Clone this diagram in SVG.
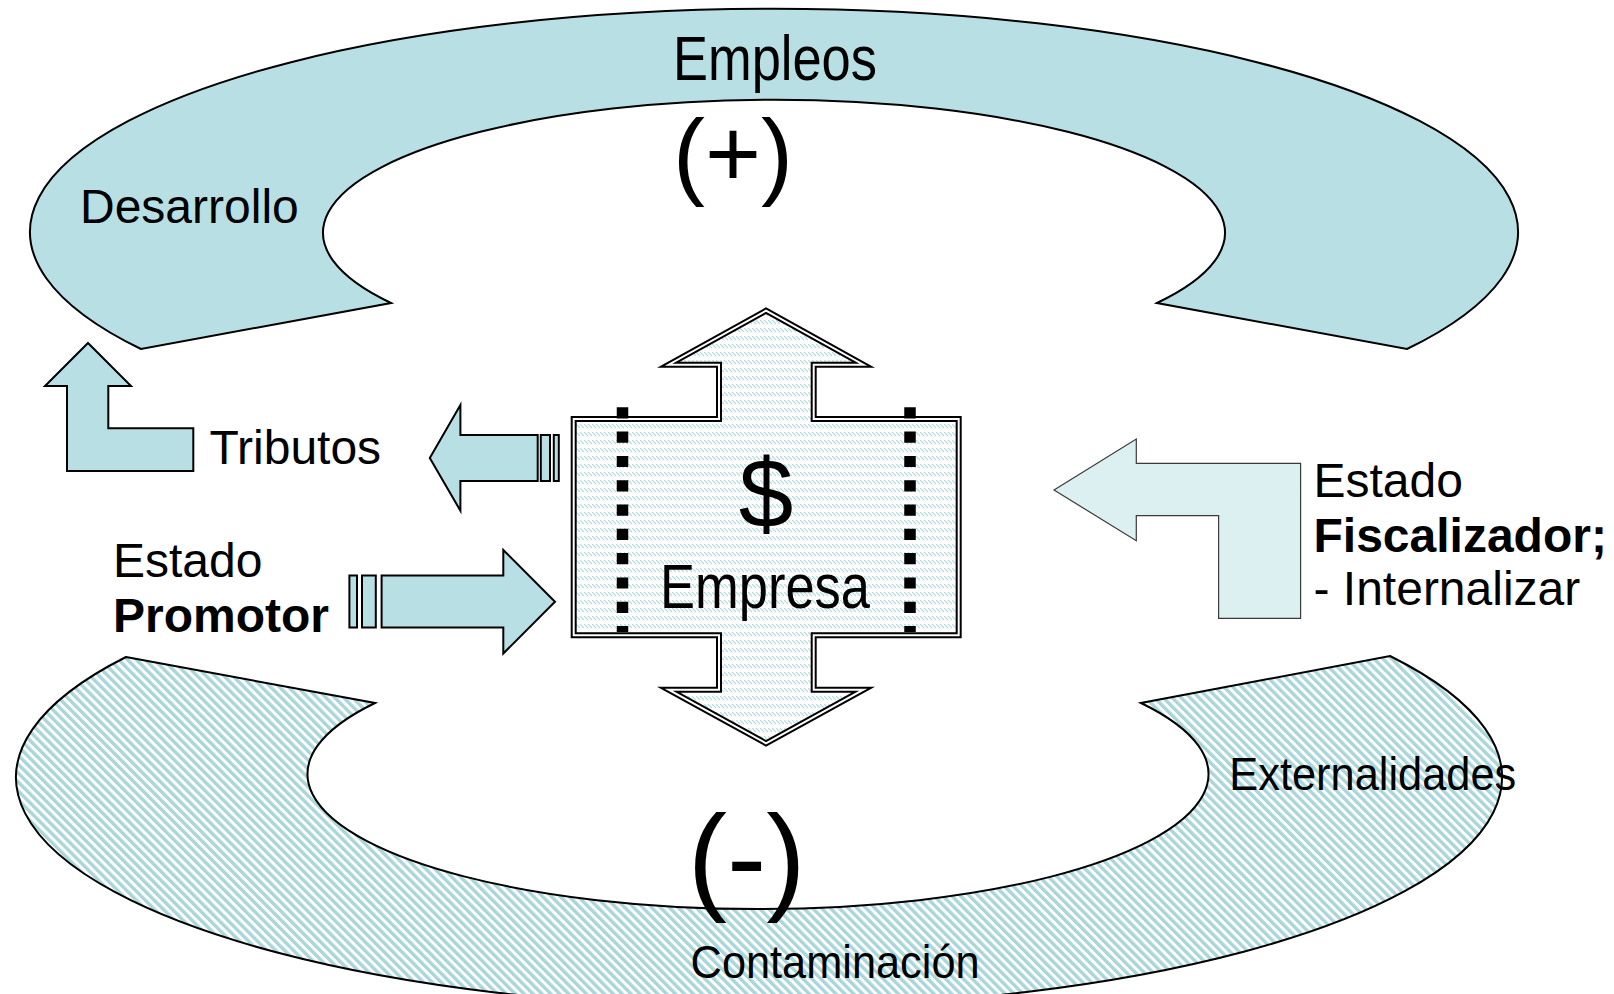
<svg xmlns="http://www.w3.org/2000/svg" width="1614" height="994" viewBox="0 0 1614 994">
  <defs>
    <pattern id="stripes" patternUnits="userSpaceOnUse" width="6.3" height="20" patternTransform="rotate(-45)">
      <rect x="0" y="0" width="6.3" height="20" fill="#ffffff"/>
      <rect x="0" y="0" width="3.4" height="20" fill="#a9d6db"/>
    </pattern>
    <pattern id="dashdiag" patternUnits="userSpaceOnUse" width="8" height="8">
      <rect x="0" y="0" width="8" height="8" fill="#ffffff"/>
      <path d="M0,0 L4,4 M4,0 L8,4" stroke="#b3dbdf" stroke-width="1.2" fill="none"/>
    </pattern>
    <style>
      .lbl { font-family: "Liberation Sans", Arial, sans-serif; fill: #000; }
      .band { stroke: #000; stroke-width: 2; }
      .blk { fill: #b8dfe3; stroke: #000; stroke-width: 2; stroke-linejoin: miter; }
    </style>
  </defs>
  <rect width="1614" height="994" fill="#ffffff"/>

  <g id="positive-loop">
    <path class="band" fill="#b8dfe3" d="M141,349 A744,223 0 1 1 1407,349 L1157,303 A451,133 0 1 0 391,303 Z"/>
    <text class="lbl" x="673" y="80" font-size="63" textLength="204" lengthAdjust="spacingAndGlyphs">Empleos</text>
    <text class="lbl" x="80" y="222.7" font-size="48">Desarrollo</text>
    <text class="lbl" x="733" y="186.5" font-size="96" text-anchor="middle">(+)</text>
  </g>

  <g id="negative-loop">
    <path class="band" fill="url(#stripes)" d="M126,657 L375,703 A450.5,135 0 1 0 1141,703 L1390,656 A743,230 0 1 1 126,657 Z"/>
    <text class="lbl" x="1229.3" y="790" font-size="46.5" textLength="287" lengthAdjust="spacingAndGlyphs">Externalidades</text>
    <text class="lbl" x="690.6" y="978.3" font-size="46.5" textLength="289" lengthAdjust="spacingAndGlyphs">Contaminación</text>
    <text class="lbl" x="746.7" y="898" font-size="118" text-anchor="middle">(-)</text>
  </g>

  <g id="connectors">
    <g id="arrow-desarrollo">
      <polygon class="blk" stroke-width="1.6" points="88,343 131,386 108.3,386 108.3,428.3 193.3,428.3 193.3,471 67,471 67,386 45,386"/>
    </g>
    <g id="arrow-tributos">
      <polygon class="blk" points="429.8,457.9 460.4,405 460.4,435 537.7,435 537.7,481 460.4,481 460.4,510.7"/>
      <rect class="blk" x="540.8" y="435" width="9.2" height="46"/>
      <rect class="blk" x="553.8" y="435" width="5" height="46"/>
    </g>
    <g id="arrow-promotor">
      <rect class="blk" x="349.4" y="575.5" width="7.6" height="52"/>
      <rect class="blk" x="362" y="575.5" width="13.8" height="52"/>
      <polygon class="blk" points="381.6,575.5 503.3,575.5 503.3,550 555,601.7 503.3,653.5 503.3,627.5 381.6,627.5"/>
    </g>
    <g id="arrow-fiscalizador">
      <polygon fill="#dcefF1" stroke="#3a3a3a" stroke-width="1.2" points="1054,490 1136.3,439 1136.3,463.3 1300.6,463.3 1300.6,618.3 1218.6,618.3 1218.6,515.7 1136.3,515.7 1136.3,540.7"/>
    </g>
  </g>

  <g id="empresa">
    <path fill="url(#dashdiag)" stroke="#000" stroke-width="6" stroke-miterlimit="10"
      d="M766,310.7 L863.4,364.7 L813.7,364.7 L813.7,419 L958.7,419 L958.7,635.3 L813.7,635.3 L813.7,689.7 L863.4,689.7 L766,743.3 L668.6,689.7 L719,689.7 L719,635.3 L573.7,635.3 L573.7,419 L719,419 L719,364.7 L668.6,364.7 Z"/>
    <path fill="none" stroke="#fff" stroke-width="2" stroke-miterlimit="10"
      d="M766,310.7 L863.4,364.7 L813.7,364.7 L813.7,419 L958.7,419 L958.7,635.3 L813.7,635.3 L813.7,689.7 L863.4,689.7 L766,743.3 L668.6,689.7 L719,689.7 L719,635.3 L573.7,635.3 L573.7,419 L719,419 L719,364.7 L668.6,364.7 Z"/>
    <line x1="622.5" y1="407.3" x2="622.5" y2="632" stroke="#000" stroke-width="11.5" stroke-dasharray="11.2 13.1"/>
    <line x1="910" y1="407.3" x2="910" y2="632" stroke="#000" stroke-width="11.5" stroke-dasharray="11.2 13.1"/>
    <text class="lbl" x="766" y="527" font-size="98" text-anchor="middle">$</text>
    <text class="lbl" x="660" y="608.3" font-size="63" textLength="210" lengthAdjust="spacingAndGlyphs">Empresa</text>
  </g>

  <g id="label-tributos">
    <text class="lbl" x="209.5" y="464" font-size="48">Tributos</text>
  </g>
  <g id="label-promotor">
    <text class="lbl" x="113" y="577" font-size="48">Estado</text>
    <text class="lbl" x="113" y="631.5" font-size="48" font-weight="bold">Promotor</text>
  </g>
  <g id="label-fiscalizador">
    <text class="lbl" x="1313.5" y="496.7" font-size="48">Estado</text>
    <text class="lbl" x="1313.5" y="551.7" font-size="48" font-weight="bold">Fiscalizador;</text>
    <text class="lbl" x="1313.5" y="605" font-size="48">- Internalizar</text>
  </g>
</svg>
